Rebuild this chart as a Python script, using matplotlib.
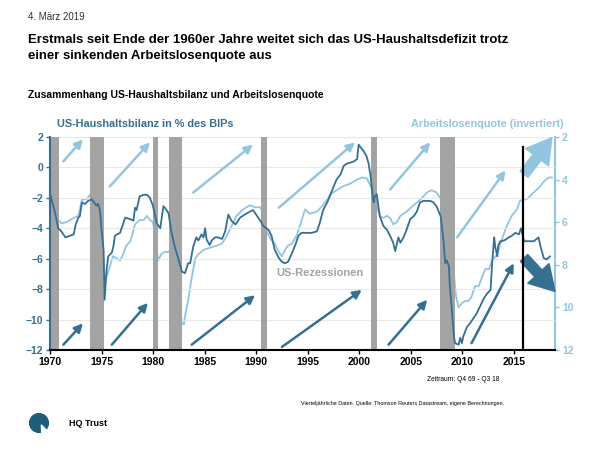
import numpy as np
import matplotlib
matplotlib.use("Agg")
import matplotlib.pyplot as plt
from matplotlib.patches import Circle, Polygon

plt.rcParams['font.family'] = ['Liberation Sans', 'DejaVu Sans']

# US-Haushaltsbilanz in % des BIP (linke Achse)
bal_years = [1970.0, 1970.5, 1970.8, 1971.1, 1971.5, 1971.9, 1972.3, 1972.5, 1972.75, 1972.9,
             1973.1, 1973.4, 1973.7, 1974.05, 1974.5, 1974.65, 1974.85, 1975.0, 1975.2, 1975.3,
             1975.5, 1975.65, 1976.0, 1976.15, 1976.3, 1976.5, 1976.8, 1977.3, 1977.8, 1978.1,
             1978.25, 1978.4, 1978.7, 1979.1, 1979.4, 1979.7, 1980.0, 1980.35, 1980.7, 1981.0,
             1981.15, 1981.5, 1981.8, 1982.1, 1982.5, 1982.8, 1983.1, 1983.4, 1983.6, 1983.9,
             1984.2, 1984.4, 1984.7, 1984.9, 1985.05, 1985.2, 1985.5, 1985.7, 1986.0, 1986.3,
             1986.7, 1987.0, 1987.3, 1987.6, 1988.0, 1988.45, 1988.9, 1989.4, 1989.7, 1990.1,
             1990.4, 1990.7, 1991.2, 1991.5, 1991.8, 1992.2, 1992.5, 1992.8, 1993.1, 1993.5,
             1993.8, 1994.1, 1994.4, 1994.9, 1995.4, 1995.9, 1996.2, 1996.5, 1996.9, 1997.2,
             1997.5, 1997.8, 1998.2, 1998.5, 1998.8, 1999.1, 1999.5, 1999.8, 1999.95, 2000.1,
             2000.4, 2000.7, 2000.9, 2001.1, 2001.2, 2001.4, 2001.5, 2001.7, 2001.9, 2002.0,
             2002.35, 2002.7, 2003.0, 2003.3, 2003.5, 2003.65, 2003.8, 2004.0, 2004.3, 2004.6,
             2004.95, 2005.3, 2005.6, 2005.9, 2006.25, 2006.6, 2006.9, 2007.2, 2007.5, 2007.9,
             2008.0, 2008.2, 2008.35, 2008.5, 2008.7, 2008.8, 2009.0, 2009.2, 2009.3, 2009.65,
             2009.8, 2009.97, 2010.1, 2010.45, 2010.8, 2011.1, 2011.4, 2011.75, 2012.1, 2012.4,
             2012.75, 2012.9, 2013.1, 2013.2, 2013.4, 2013.5, 2013.7, 2013.85, 2014.2, 2014.5,
             2014.8, 2015.15, 2015.5, 2015.7, 2016.0, 2016.3, 2016.95, 2017.4, 2017.6, 2017.9,
             2018.2, 2018.5]
bal_values = [-1.7, -3.0, -4.0, -4.2, -4.6, -4.5, -4.4, -3.75, -3.3, -3.2,
              -2.3, -2.4, -2.2, -2.1, -2.5, -2.4, -2.8, -4.1, -5.4, -8.7,
              -6.7, -5.85, -5.6, -5.2, -4.5, -4.4, -4.3, -3.3, -3.4, -3.5,
              -2.65, -2.8, -1.9, -1.8, -1.8, -2.0, -2.55, -3.65, -4.0, -2.55,
              -2.65, -3.0, -4.3, -5.2, -6.1, -6.85, -6.95, -6.3, -6.3, -5.2,
              -4.6, -4.8, -4.4, -4.6, -4.0, -4.75, -5.1, -4.8, -4.6, -4.6,
              -4.7, -4.2, -3.1, -3.5, -3.75, -3.3, -3.1, -2.9, -2.8, -3.2,
              -3.5, -3.85, -4.1, -4.5, -5.4, -5.95, -6.2, -6.3, -6.2, -5.6,
              -5.1, -4.5, -4.3, -4.3, -4.3, -4.2, -3.6, -2.8, -2.3, -1.8,
              -1.3, -0.8, -0.45, 0.1, 0.25, 0.3, 0.4, 0.55, 1.5, 1.35,
              1.1, 0.75, 0.3, -0.55, -1.2, -2.3, -1.95, -1.75, -2.75, -3.2,
              -3.85, -4.1, -4.5, -4.95, -5.5, -5.05, -4.6, -4.95, -4.6, -4.1,
              -3.4, -3.2, -2.9, -2.3, -2.2, -2.2, -2.2, -2.3, -2.55, -3.2,
              -3.75, -4.95, -6.3, -6.1, -6.5, -7.8, -9.4, -11.1, -11.55, -11.65,
              -11.2, -11.55, -11.1, -10.5, -10.2, -9.9, -9.6, -9.1, -8.6, -8.3,
              -8.05, -6.3, -4.6, -5.2, -5.85, -5.1, -4.85, -4.85, -4.75, -4.6,
              -4.5, -4.3, -4.4, -4.0, -4.85, -4.85, -4.85, -4.6, -5.2, -5.95,
              -6.05, -5.85]

# Arbeitslosenquote in % (rechte Achse, invertiert)
ue_years = [1970.0, 1970.4, 1970.8, 1971.1, 1971.6, 1972.3, 1972.75, 1973.1, 1973.6, 1973.9,
            1974.05, 1974.4, 1974.7, 1975.0, 1975.35, 1975.5, 1975.8, 1976.1, 1976.5, 1976.8,
            1977.1, 1977.4, 1977.8, 1978.25, 1978.7, 1979.1, 1979.4, 1979.7, 1980.0, 1980.2,
            1980.5, 1980.8, 1981.1, 1981.5, 1981.65, 1981.8, 1982.1, 1982.5, 1982.8, 1983.0,
            1983.1, 1983.4, 1983.75, 1984.1, 1984.4, 1984.9, 1985.5, 1986.2, 1986.7, 1987.2,
            1987.6, 1988.1, 1988.75, 1989.4, 1989.9, 1990.4, 1990.7, 1991.0, 1991.4, 1991.8,
            1992.2, 1992.5, 1992.8, 1993.1, 1993.5, 1993.95, 1994.3, 1994.75, 1995.2, 1995.9,
            1996.5, 1997.2, 1997.8, 1998.5, 1999.1, 1999.8, 2000.3, 2000.75, 2001.1, 2001.4,
            2001.7, 2002.0, 2002.35, 2002.7, 2003.0, 2003.3, 2003.65, 2004.0, 2004.6, 2005.3,
            2005.9, 2006.6, 2007.0, 2007.5, 2007.9, 2008.2, 2008.5, 2008.8, 2009.0, 2009.2,
            2009.4, 2009.65, 2009.97, 2010.3, 2010.6, 2010.9, 2011.25, 2011.6, 2011.9, 2012.25,
            2012.6, 2012.9, 2013.4, 2013.85, 2014.3, 2014.8, 2015.3, 2015.6, 2016.3, 2016.95,
            2017.4, 2017.9, 2018.4, 2018.7]
ue_values = [3.9, 4.8, 5.9, 6.05, 6.0, 5.8, 5.7, 4.95, 4.9, 4.7,
             4.6, 5.0, 5.3, 6.7, 8.7, 8.55, 8.1, 7.6, 7.7, 7.8,
             7.5, 7.1, 6.9, 6.1, 5.9, 5.9, 5.7, 5.9, 6.0, 6.7,
             7.8, 7.5, 7.4, 7.4, 7.3, 7.6, 8.9, 9.5, 10.75, 10.8,
             10.4, 9.7, 8.6, 7.7, 7.5, 7.3, 7.2, 7.1, 7.0, 6.6,
             6.2, 5.7, 5.4, 5.2, 5.3, 5.3, 5.6, 6.4, 6.8, 7.0,
             7.4, 7.6, 7.3, 7.1, 7.0, 6.6, 6.1, 5.4, 5.6, 5.5,
             5.2, 4.7, 4.5, 4.3, 4.2, 4.0, 3.9, 3.95, 4.3, 4.6,
             5.2, 5.7, 5.8, 5.7, 5.8, 6.1, 6.0, 5.7, 5.5, 5.2,
             4.95, 4.6, 4.5, 4.6, 4.9, 5.0, 5.8, 6.8, 7.8, 8.5,
             9.5, 10.0, 9.8, 9.7, 9.7, 9.5, 9.0, 9.0, 8.6, 8.2,
             8.2, 7.8, 7.5, 6.8, 6.2, 5.7, 5.4, 5.0, 4.9, 4.6,
             4.4, 4.1, 3.9, 3.9]

# US-Rezessionen (Beginn, Ende)
recessions = [(1970.0, 1970.85), (1973.85, 1975.2), (1980.0, 1980.5), (1981.55, 1982.85),
              (1990.5, 1991.1), (2001.1, 2001.75), (2007.85, 2009.3)]
marker_year = 2015.85

# Pfeile (Start, Ende) in Jahren / Werten der linken Achse
arrows_up = [((1971.3, 0.4), (1973.2, 1.85)), ((1975.8, -1.25), (1979.7, 1.65)),
             ((1983.9, -1.65), (1989.7, 1.5)), ((1992.2, -2.65), (1999.6, 1.65)),
             ((2003.0, -1.45), (2006.9, 1.65)), ((2009.5, -4.6), (2014.2, -0.2))]
arrows_down = [((1971.3, -11.65), (1973.2, -10.25)), ((1976.0, -11.65), (1979.5, -8.9)),
               ((1983.75, -11.65), (1989.9, -8.4)), ((1992.5, -11.8), (2000.25, -8.05)),
               ((2002.85, -11.65), (2006.6, -8.7)), ((2010.9, -11.55), (2015.0, -6.3))]
big_up = ((2016.0, -0.45), (2018.7, 1.95))
big_down = ((2016.0, -5.95), (2019.0, -8.15))

dark = '#356f92'
light = '#94c5e0'
grey = '#a3a3a3'

fig = plt.figure(figsize=(6, 4.5), dpi=100)
ax = fig.add_axes([0.0833, 0.2222, 0.8417, 0.4734])
ax2 = ax.twinx()

for a, b in recessions:
    ax.axvspan(a, b, color=grey, lw=0, zorder=1)
ax.axvline(marker_year, ymin=0, ymax=0.955, color='black', lw=1.6, zorder=6)

ax.set_zorder(ax2.get_zorder() + 1)
ax.patch.set_visible(False)

ax2.plot(ue_years, ue_values, color=light, lw=1.3, zorder=2)
ax.plot(bal_years, bal_values, color=dark, lw=1.3, zorder=3)

for (s, e) in arrows_up:
    ax.annotate('', xy=e, xytext=s,
                arrowprops=dict(arrowstyle='-|>,head_width=0.25,head_length=0.5',
                                color=light, lw=1.8, shrinkA=0, shrinkB=0), zorder=4)
for (s, e) in arrows_down:
    ax.annotate('', xy=e, xytext=s,
                arrowprops=dict(arrowstyle='-|>,head_width=0.25,head_length=0.5',
                                color=dark, lw=1.8, shrinkA=0, shrinkB=0), zorder=4)
ax.annotate('', xy=big_up[1], xytext=big_up[0], annotation_clip=False,
            arrowprops=dict(arrowstyle='simple,head_width=1.3,head_length=1.1,tail_width=0.45',
                            color=light, mutation_scale=16, shrinkA=0, shrinkB=0), zorder=5)
ax.annotate('', xy=big_down[1], xytext=big_down[0], annotation_clip=False,
            arrowprops=dict(arrowstyle='simple,head_width=1.3,head_length=1.1,tail_width=0.45',
                            color=dark, mutation_scale=16, shrinkA=0, shrinkB=0), zorder=5)

ax.set_xlim(1970, 2019)
ax.set_ylim(-12, 2)
ax.set_yticks(range(-12, 3, 2))
ax.set_xticks(range(1970, 2016, 5))
ax2.set_ylim(12, 2)
ax2.set_yticks(range(2, 13, 2))

ax.grid(axis='y', color='#e8e8e8', lw=0.8)
ax.set_axisbelow(True)

for a in (ax, ax2):
    a.spines['top'].set_visible(False)
ax.spines['right'].set_visible(False)
ax.spines['left'].set_color(dark)
ax.spines['left'].set_linewidth(1.5)
ax2.spines['left'].set_visible(False)
ax2.spines['right'].set_color(light)
ax2.spines['right'].set_linewidth(1.5)
ax2.spines['bottom'].set_visible(False)
ax.spines['bottom'].set_linewidth(1.5)

ax.tick_params(axis='y', colors=dark, labelsize=7.5, length=3, width=1, pad=2)
ax.tick_params(axis='x', colors='black', labelsize=7.5, length=3, width=1, pad=2)
ax2.tick_params(axis='y', colors=light, labelsize=7.5, length=3, width=1, pad=2)
for lab in ax.get_xticklabels() + ax.get_yticklabels() + ax2.get_yticklabels():
    lab.set_fontweight('bold')

ax.text(1970.7, 2.55, 'US-Haushaltsbilanz in % des BIPs', color=dark, fontsize=7.8,
        fontweight='bold', va='bottom', ha='left')
ax.text(2019.8, 2.55, 'Arbeitslosenquote (invertiert)', color=light, fontsize=7.8,
        fontweight='bold', va='bottom', ha='right')
ax.text(1992.0, -6.95, 'US-Rezessionen', color=grey, fontsize=8, fontweight='bold',
        va='center', ha='left')

fig.text(0.047, 0.962, '4. März 2019', fontsize=7, color='#333333', va='center')
fig.text(0.047, 0.893, 'Erstmals seit Ende der 1960er Jahre weitet sich das US-Haushaltsdefizit trotz\n'
         'einer sinkenden Arbeitslosenquote aus', fontsize=9.45, fontweight='bold',
         va='center', linespacing=1.45)
fig.text(0.047, 0.79, 'Zusammenhang US-Haushaltsbilanz und Arbeitslosenquote', fontsize=7.5,
         fontweight='bold', va='center')
fig.text(0.832, 0.156, 'Zeitraum: Q4 69 - Q3 18', fontsize=4.8, ha='right', va='center')
fig.text(0.84, 0.104, 'Vierteljährliche Daten. Quelle: Thomson Reuters Datastream, eigene Berechnungen.',
         fontsize=3.9, ha='right', va='center')
fig.text(0.115, 0.06, 'HQ Trust', fontsize=6.5, fontweight='bold', ha='left', va='center')

lax = fig.add_axes([0.03, 0.035, 0.07, 0.05])
lax.set_aspect('equal')
lax.add_patch(Circle((0, 0), 1, color='#1f5d7c'))
lax.add_patch(Polygon([[0.25, -0.2], [1.1, -1.1], [0.3, -1.1]], color='white'))
lax.set_xlim(-1.2, 1.2)
lax.set_ylim(-1.2, 1.2)
lax.axis('off')

fig.savefig('out.png', dpi=100)
